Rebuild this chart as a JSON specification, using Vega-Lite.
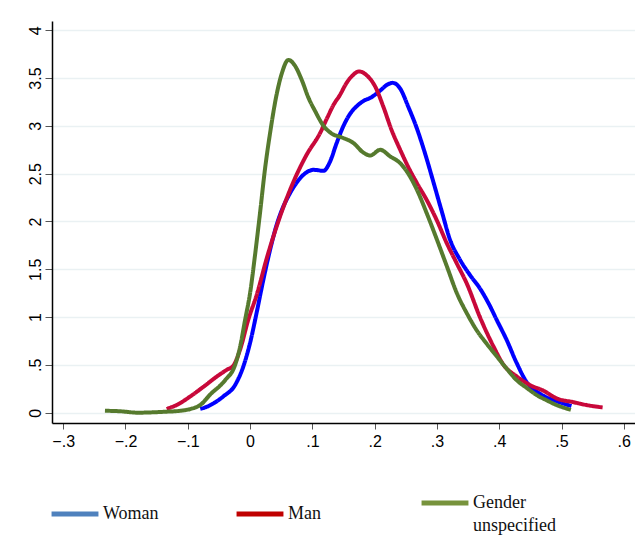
{
  "$schema": "https://vega.github.io/schema/vega-lite/v6.json",
  "width": 583,
  "height": 402,
  "autosize": "none",
  "padding": {"left": 52, "top": 21, "right": 0, "bottom": 113},
  "background": "white",
  "config": {"view": {"stroke": null}},
  "data": {"values": [
      {"g": "Woman", "x": -0.08, "y": 0.04}, {"g": "Woman", "x": -0.07, "y": 0.06}, {"g": "Woman", "x": -0.058, "y": 0.1}, {"g": "Woman", "x": -0.043, "y": 0.17}, {"g": "Woman", "x": -0.024, "y": 0.29}, {"g": "Woman", "x": -0.011, "y": 0.48}, {"g": "Woman", "x": 0, "y": 0.73}, {"g": "Woman", "x": 0.011, "y": 1.06}, {"g": "Woman", "x": 0.021, "y": 1.38}, {"g": "Woman", "x": 0.032, "y": 1.7}, {"g": "Woman", "x": 0.042, "y": 1.95}, {"g": "Woman", "x": 0.053, "y": 2.15}, {"g": "Woman", "x": 0.062, "y": 2.27}, {"g": "Woman", "x": 0.072, "y": 2.38}, {"g": "Woman", "x": 0.086, "y": 2.49}, {"g": "Woman", "x": 0.102, "y": 2.54}, {"g": "Woman", "x": 0.118, "y": 2.53}, {"g": "Woman", "x": 0.128, "y": 2.62}, {"g": "Woman", "x": 0.139, "y": 2.82}, {"g": "Woman", "x": 0.15, "y": 3.0}, {"g": "Woman", "x": 0.161, "y": 3.13}, {"g": "Woman", "x": 0.172, "y": 3.21}, {"g": "Woman", "x": 0.182, "y": 3.26}, {"g": "Woman", "x": 0.195, "y": 3.3}, {"g": "Woman", "x": 0.209, "y": 3.37}, {"g": "Woman", "x": 0.22, "y": 3.43}, {"g": "Woman", "x": 0.229, "y": 3.45}, {"g": "Woman", "x": 0.241, "y": 3.39}, {"g": "Woman", "x": 0.254, "y": 3.2}, {"g": "Woman", "x": 0.268, "y": 2.97}, {"g": "Woman", "x": 0.281, "y": 2.71}, {"g": "Woman", "x": 0.294, "y": 2.42}, {"g": "Woman", "x": 0.308, "y": 2.1}, {"g": "Woman", "x": 0.321, "y": 1.81}, {"g": "Woman", "x": 0.337, "y": 1.6}, {"g": "Woman", "x": 0.353, "y": 1.44}, {"g": "Woman", "x": 0.369, "y": 1.3}, {"g": "Woman", "x": 0.384, "y": 1.13}, {"g": "Woman", "x": 0.396, "y": 0.97}, {"g": "Woman", "x": 0.412, "y": 0.76}, {"g": "Woman", "x": 0.428, "y": 0.52}, {"g": "Woman", "x": 0.444, "y": 0.32}, {"g": "Woman", "x": 0.465, "y": 0.2}, {"g": "Woman", "x": 0.492, "y": 0.12}, {"g": "Woman", "x": 0.516, "y": 0.07},
      {"g": "Man", "x": -0.134, "y": 0.04}, {"g": "Man", "x": -0.118, "y": 0.08}, {"g": "Man", "x": -0.096, "y": 0.17}, {"g": "Man", "x": -0.075, "y": 0.27}, {"g": "Man", "x": -0.053, "y": 0.38}, {"g": "Man", "x": -0.037, "y": 0.45}, {"g": "Man", "x": -0.027, "y": 0.49}, {"g": "Man", "x": -0.016, "y": 0.66}, {"g": "Man", "x": -0.003, "y": 0.97}, {"g": "Man", "x": 0.011, "y": 1.24}, {"g": "Man", "x": 0.027, "y": 1.62}, {"g": "Man", "x": 0.048, "y": 2.05}, {"g": "Man", "x": 0.07, "y": 2.42}, {"g": "Man", "x": 0.091, "y": 2.7}, {"g": "Man", "x": 0.112, "y": 2.92}, {"g": "Man", "x": 0.125, "y": 3.1}, {"g": "Man", "x": 0.134, "y": 3.22}, {"g": "Man", "x": 0.144, "y": 3.32}, {"g": "Man", "x": 0.155, "y": 3.45}, {"g": "Man", "x": 0.165, "y": 3.53}, {"g": "Man", "x": 0.175, "y": 3.57}, {"g": "Man", "x": 0.187, "y": 3.53}, {"g": "Man", "x": 0.201, "y": 3.41}, {"g": "Man", "x": 0.214, "y": 3.2}, {"g": "Man", "x": 0.227, "y": 2.96}, {"g": "Man", "x": 0.241, "y": 2.75}, {"g": "Man", "x": 0.254, "y": 2.57}, {"g": "Man", "x": 0.268, "y": 2.4}, {"g": "Man", "x": 0.284, "y": 2.22}, {"g": "Man", "x": 0.3, "y": 2.01}, {"g": "Man", "x": 0.316, "y": 1.77}, {"g": "Man", "x": 0.332, "y": 1.56}, {"g": "Man", "x": 0.348, "y": 1.35}, {"g": "Man", "x": 0.369, "y": 1.0}, {"g": "Man", "x": 0.391, "y": 0.69}, {"g": "Man", "x": 0.407, "y": 0.5}, {"g": "Man", "x": 0.428, "y": 0.38}, {"g": "Man", "x": 0.449, "y": 0.29}, {"g": "Man", "x": 0.471, "y": 0.23}, {"g": "Man", "x": 0.492, "y": 0.15}, {"g": "Man", "x": 0.519, "y": 0.11}, {"g": "Man", "x": 0.54, "y": 0.08}, {"g": "Man", "x": 0.566, "y": 0.055},
      {"g": "Gender unspecified", "x": -0.233, "y": 0.02}, {"g": "Gender unspecified", "x": -0.209, "y": 0.015}, {"g": "Gender unspecified", "x": -0.18, "y": 0.0}, {"g": "Gender unspecified", "x": -0.136, "y": 0.01}, {"g": "Gender unspecified", "x": -0.112, "y": 0.02}, {"g": "Gender unspecified", "x": -0.095, "y": 0.04}, {"g": "Gender unspecified", "x": -0.08, "y": 0.08}, {"g": "Gender unspecified", "x": -0.064, "y": 0.19}, {"g": "Gender unspecified", "x": -0.04, "y": 0.34}, {"g": "Gender unspecified", "x": -0.024, "y": 0.5}, {"g": "Gender unspecified", "x": -0.016, "y": 0.69}, {"g": "Gender unspecified", "x": -0.008, "y": 0.97}, {"g": "Gender unspecified", "x": 0, "y": 1.25}, {"g": "Gender unspecified", "x": 0.008, "y": 1.65}, {"g": "Gender unspecified", "x": 0.016, "y": 2.09}, {"g": "Gender unspecified", "x": 0.024, "y": 2.55}, {"g": "Gender unspecified", "x": 0.032, "y": 2.92}, {"g": "Gender unspecified", "x": 0.043, "y": 3.34}, {"g": "Gender unspecified", "x": 0.051, "y": 3.55}, {"g": "Gender unspecified", "x": 0.0615, "y": 3.69}, {"g": "Gender unspecified", "x": 0.072, "y": 3.63}, {"g": "Gender unspecified", "x": 0.083, "y": 3.48}, {"g": "Gender unspecified", "x": 0.094, "y": 3.29}, {"g": "Gender unspecified", "x": 0.104, "y": 3.16}, {"g": "Gender unspecified", "x": 0.118, "y": 3.0}, {"g": "Gender unspecified", "x": 0.131, "y": 2.92}, {"g": "Gender unspecified", "x": 0.147, "y": 2.88}, {"g": "Gender unspecified", "x": 0.166, "y": 2.82}, {"g": "Gender unspecified", "x": 0.182, "y": 2.72}, {"g": "Gender unspecified", "x": 0.193, "y": 2.69}, {"g": "Gender unspecified", "x": 0.209, "y": 2.75}, {"g": "Gender unspecified", "x": 0.225, "y": 2.68}, {"g": "Gender unspecified", "x": 0.241, "y": 2.61}, {"g": "Gender unspecified", "x": 0.254, "y": 2.5}, {"g": "Gender unspecified", "x": 0.268, "y": 2.33}, {"g": "Gender unspecified", "x": 0.284, "y": 2.08}, {"g": "Gender unspecified", "x": 0.3, "y": 1.81}, {"g": "Gender unspecified", "x": 0.316, "y": 1.53}, {"g": "Gender unspecified", "x": 0.332, "y": 1.25}, {"g": "Gender unspecified", "x": 0.348, "y": 1.04}, {"g": "Gender unspecified", "x": 0.364, "y": 0.86}, {"g": "Gender unspecified", "x": 0.38, "y": 0.72}, {"g": "Gender unspecified", "x": 0.396, "y": 0.59}, {"g": "Gender unspecified", "x": 0.412, "y": 0.46}, {"g": "Gender unspecified", "x": 0.428, "y": 0.34}, {"g": "Gender unspecified", "x": 0.444, "y": 0.26}, {"g": "Gender unspecified", "x": 0.46, "y": 0.185}, {"g": "Gender unspecified", "x": 0.476, "y": 0.13}, {"g": "Gender unspecified", "x": 0.492, "y": 0.08}, {"g": "Gender unspecified", "x": 0.515, "y": 0.03}
  ]},
  "mark": {
    "type": "line", "strokeWidth": 4, "interpolate": "monotone", "strokeCap": "butt", "strokeJoin": "round",
    "stroke": {"expr": "datum.g ? (datum.g == 'Woman' ? '#0000ff' : datum.g == 'Man' ? '#c8083a' : '#567a2e') : (datum.value == 'Woman' ? '#4f81bd' : datum.value == 'Man' ? '#c00000' : '#77933c')"}
  },
  "encoding": {
    "x": {
      "field": "x", "type": "quantitative",
      "scale": {"domain": [-0.318, 0.618], "nice": false, "zero": false},
      "axis": {
        "title": null,
        "values": [-0.3, -0.2, -0.1, 0, 0.1, 0.2, 0.3, 0.4, 0.5, 0.6],
        "labelExpr": "datum.value == 0 ? '0' : replace(format(datum.value, '.1f'), '0.', '.')",
        "labelFont": "Liberation Sans", "labelFontSize": 16, "labelColor": "#000000",
        "labelPadding": 4, "tickSize": 6, "tickColor": "#555555",
        "domainColor": "#000000", "domainWidth": 1.5, "grid": false, "labelFlush": false
      }
    },
    "y": {
      "field": "y", "type": "quantitative",
      "scale": {"domain": [-0.108, 4.097], "nice": false, "zero": false},
      "axis": {
        "title": null,
        "values": [0, 0.5, 1, 1.5, 2, 2.5, 3, 3.5, 4],
        "labelExpr": "datum.value == 0.5 ? '.5' : format(datum.value, '~g')",
        "labelAngle": -90, "labelAlign": "center", "labelBaseline": "alphabetic",
        "labelFont": "Liberation Sans", "labelFontSize": 16, "labelColor": "#000000",
        "labelPadding": 5, "tickSize": 7, "tickColor": "#555555",
        "domainColor": "#000000", "domainWidth": 1.5,
        "grid": true, "gridColor": "#eaf1f3", "gridWidth": 1.5, "labelFlush": false
      }
    },
    "strokeDash": {
      "field": "g", "type": "nominal",
      "scale": {"domain": ["Woman", "Man", "Gender unspecified"], "range": [[1, 0], [1, 0], [1, 0]]},
      "legend": {
        "title": null, "orient": "none", "direction": "horizontal", "columns": 3,
        "legendX": -3, "legendY": 456, "padding": 0,
        "gridAlign": "all", "columnPadding": 40,
        "symbolType": "stroke", "symbolSize": 2200, "symbolStrokeWidth": 5,
        "labelFont": "Liberation Serif", "labelFontSize": 18, "labelColor": "#111111",
        "labelOffset": 2, "labelLimit": 300,
        "labelExpr": "datum.label == 'Gender unspecified' ? ['Gender', 'unspecified'] : datum.label",
        "encoding": {"labels": {"lineHeight": {"value": 23}}}
      }
    }
  }
}
